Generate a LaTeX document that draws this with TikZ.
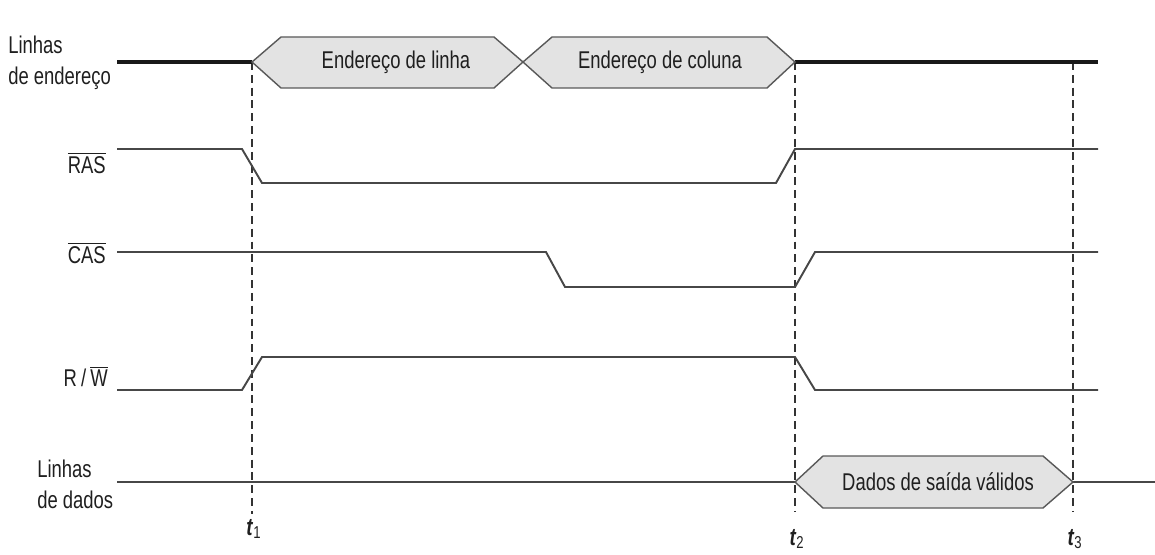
\documentclass[tikz,border=0pt]{standalone}
\usepackage{fontspec}
\setmainfont{Liberation Sans}[FakeStretch=0.76]
\usetikzlibrary{positioning}

\begin{document}
\begin{tikzpicture}
  [x=0.02cm, y=-0.02cm,
   wave/.style={draw=black!72, line width=1.1pt, line join=miter},
   addrline/.style={draw=black!90, line width=1.8pt},
   bus/.style={draw=black!65, fill=black!11, line width=0.8pt, line join=miter},
   marker/.style={draw=black!80, line width=0.8pt, dash pattern=on 4.5pt off 2.8pt},
   sig/.style={text=black!88, font=\fontsize{13.8}{17.5}\selectfont, inner sep=0pt},
   tmark/.style={text=black!88, font=\fontsize{14}{16}\selectfont, inner sep=1pt}
  ]
 \useasboundingbox (0,0) rectangle (1155,554);

 \path
   (8, 63)    node (addr)  [sig, anchor=west, align=left] {Linhas\\de endereço}
   (106, 163) node (ras)   [sig, anchor=east] {$\overline{\mbox{RAS}}$}
   (106, 253) node (cas)   [sig, anchor=east] {$\overline{\mbox{CAS}}$}
   (108, 377) node (rw)    [sig, anchor=east] {R\,/\,$\overline{\mbox{W}}$}
   (37, 484)  node (data)  [sig, anchor=west, align=left] {Linhas\\de dados}
   ;

 % time markers
 \coordinate (t1top) at (252, 62);
 \coordinate (t2top) at (795, 62);
 \coordinate (t3top) at (1073, 62);
 \path
   (254, 529)  node (t1) [tmark] {\textbf{\textit{t}}\textsubscript{1}}
   (797, 539)  node (t2) [tmark] {\textbf{\textit{t}}\textsubscript{2}}
   (1075, 539) node (t3) [tmark] {\textbf{\textit{t}}\textsubscript{3}}
   ;
 \draw [marker] (t1top) -- (252, 514);
 \draw [marker] (t2top) -- (795, 512);
 \draw [marker] (t3top) -- (1073, 512);

 % address bus
 \draw [addrline] (117, 62) -- (t1top);
 \draw [addrline] (t2top) -- (1098, 62);
 \draw [bus] (t1top) -- (281, 37) -- (494, 37) -- (523, 62) -- (494, 88) -- (281, 88) -- cycle;
 \draw [bus] (523, 62) -- (552, 37) -- (767, 37) -- (t2top) -- (767, 88) -- (552, 88) -- cycle;
 \path
   (396, 62) node (rowaddr) [sig] {Endereço de linha}
   (660, 62) node (coladdr) [sig] {Endereço de coluna}
   ;

 % control lines
 \draw [wave] (117, 149) -- (242, 149) -- (262, 183) -- (776, 183) -- (795, 149) -- (1098, 149);
 \draw [wave] (117, 252) -- (546, 252) -- (565, 287) -- (795, 287) -- (815, 252) -- (1098, 252);
 \draw [wave] (117, 390) -- (242, 390) -- (262, 357) -- (795, 357) -- (815, 390) -- (1098, 390);

 % data bus
 \draw [wave] (117, 482) -- (795, 482);
 \draw [wave] (1073, 482) -- (1155, 482);
 \draw [bus] (795, 482) -- (823, 456) -- (1043, 456) -- (1073, 482) -- (1043, 508) -- (823, 508) -- cycle;
 \path (938, 482) node (dout) [sig] {Dados de saída válidos};

\end{tikzpicture}
\end{document}
